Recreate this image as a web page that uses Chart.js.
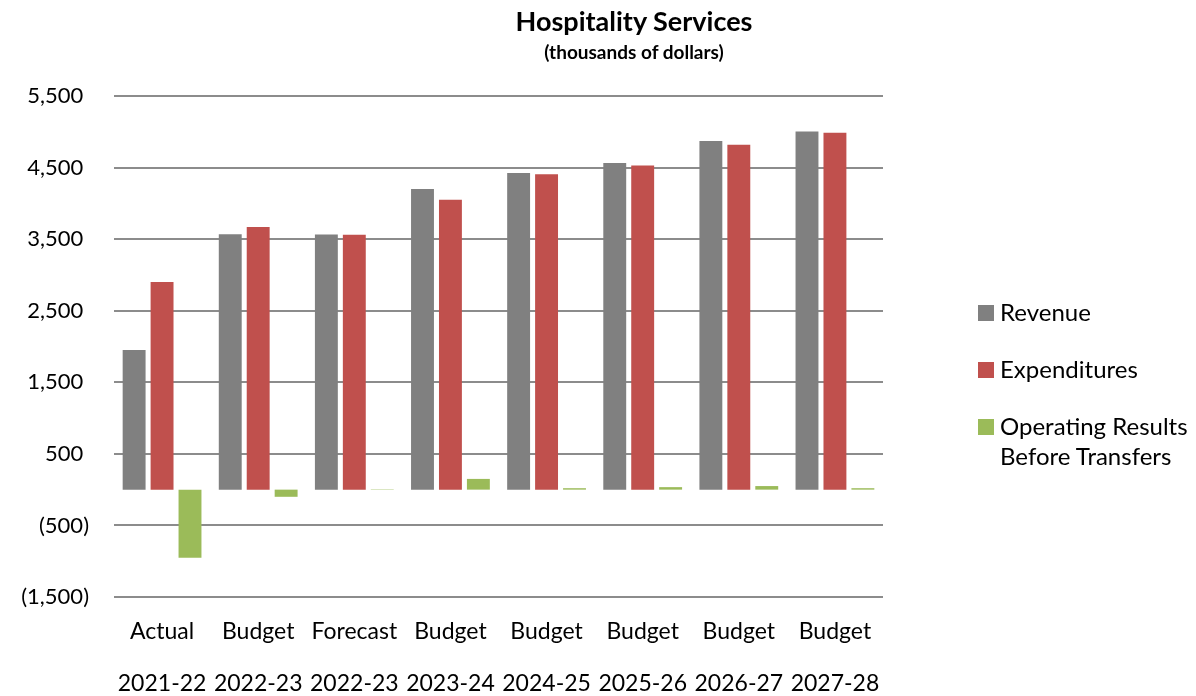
<!DOCTYPE html>
<html>
<head>
<meta charset="utf-8">
<script src="https://cdn.jsdelivr.net/npm/chart.js@4/dist/chart.umd.min.js"></script>
<style>
    html, body { margin: 0; padding: 0; background: #fff; overflow: hidden; }
    #wrap { position: relative; width: 1196px; height: 696px; font-family: Lato, "Open Sans", sans-serif; }
    #title { position: absolute; left: 434px; width: 400px; top: 4px; text-align: center; font-weight: bold; color: #000; }
    #title .main { font-size: 27px; line-height: 34px; }
    #title .sub { font-size: 19px; line-height: 28px; }
    #legend { position: absolute; left: 978px; top: 297px; width: 222px; font-size: 24px; color: #000; }
    #legend .item { position: relative; padding-left: 22px; line-height: 30px; margin-bottom: 27px; }
    #legend .box { position: absolute; left: 0; top: 8px; width: 16px; height: 16px; }
</style>
</head>
<body>
<div id="wrap">
    <canvas id="hospChart" width="1196" height="696"></canvas>
    <div id="title"><div class="main">Hospitality Services</div><div class="sub">(thousands of dollars)</div></div>
    <div id="legend"></div>
</div>
<script>
// categorias (dos lineas: tipo y año)
const tipos = ['Actual', 'Budget', 'Forecast', 'Budget', 'Budget', 'Budget', 'Budget', 'Budget'];
const anios = ['2021-22', '2022-23', '2022-23', '2023-24', '2024-25', '2025-26', '2026-27', '2027-28'];

// series (miles de dolares)
const revenue = [1950, 3570, 3565, 4200, 4425, 4565, 4870, 5005];
const expenditures = [2900, 3670, 3560, 4050, 4405, 4530, 4820, 4985];
const operating = [-950, -100, 5, 150, 20, 35, 50, 20];

const seriesNames = ['Revenue', 'Expenditures', 'Operating Results Before Transfers'];
const seriesColors = ['#808080', '#C0504D', '#9BBB59'];

// eje y
const yMin = -1500;
const yMax = 5500;
const yStep = 1000;

function formatTick(v) {
    if (v < 0) return '(' + Math.abs(v).toLocaleString('en-US') + ')';
    return v.toLocaleString('en-US') + ' ';
}

const labels = tipos.map(function (t, i) { return [t, '', anios[i]]; });
const allSeries = [revenue, expenditures, operating];

const ctx = document.getElementById('hospChart').getContext('2d');
const chart = new Chart(ctx, {
    type: 'bar',
    data: {
        labels: labels,
        datasets: allSeries.map(function (d, i) {
            return {
                label: seriesNames[i],
                data: d,
                backgroundColor: seriesColors[i],
                borderWidth: 0,
                categoryPercentage: 0.872,
                barPercentage: 0.82
            };
        })
    },
    options: {
        responsive: false,
        animation: false,
        layout: { padding: { top: 96, right: 313, left: 0, bottom: 0 } },
        plugins: {
            legend: { display: false },
            title: { display: false },
            tooltip: { enabled: false }
        },
        scales: {
            x: {
                grid: { display: false, drawTicks: false },
                border: { display: false },
                ticks: {
                    color: '#000',
                    padding: 22,
                    maxRotation: 0,
                    autoSkip: false,
                    font: { family: 'Lato', size: 23, lineHeight: 26 / 23 }
                },
                afterFit: function (scale) { scale.height = 99; }
            },
            y: {
                min: yMin,
                max: yMax,
                grid: { color: '#8c8c8c', lineWidth: 2, drawTicks: false },
                border: { display: false },
                ticks: {
                    stepSize: yStep,
                    color: '#000',
                    padding: 25,
                    font: { family: 'Lato', size: 22 },
                    callback: function (v) { return formatTick(v); }
                },
                afterFit: function (scale) { scale.width = 114; }
            }
        }
    }
});

// leyenda en html
const legendEl = document.getElementById('legend');
chart.data.datasets.forEach(function (ds) {
    const item = document.createElement('div');
    item.className = 'item';
    const box = document.createElement('span');
    box.className = 'box';
    box.style.background = ds.backgroundColor;
    item.appendChild(box);
    item.appendChild(document.createTextNode(ds.label));
    legendEl.appendChild(item);
});
</script>
</body>
</html>
